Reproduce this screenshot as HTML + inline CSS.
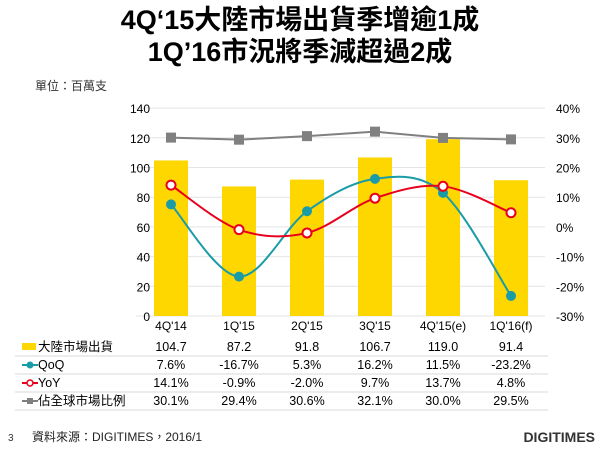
<!DOCTYPE html>
<html><head><meta charset="utf-8"><style>
body{margin:0;width:600px;height:450px;background:#fff;font-family:"Liberation Sans","Noto Sans CJK TC",sans-serif;overflow:hidden}
</style></head><body>
<svg id="s" width="600" height="450" xmlns="http://www.w3.org/2000/svg" font-family="Liberation Sans, Noto Sans CJK TC, sans-serif">
<text x="300" y="29" text-anchor="middle" font-size="27" font-weight="bold">4Q‘15大陸市場出貨季增逾1成</text>
<text x="300" y="61" text-anchor="middle" font-size="27" font-weight="bold">1Q’16市況將季減超過2成</text>
<text x="35" y="90" font-size="12" fill="#333">單位：百萬支</text>
<g id="g"></g>
<text x="8" y="441" font-size="10" fill="#333">3</text>
<text x="32" y="441" font-size="12" fill="#222">資料來源：DIGITIMES，2016/1</text>
<text x="595" y="442" text-anchor="end" font-size="14" font-weight="bold" fill="#333">DIGITIMES</text>
</svg>
<script>
var g=document.getElementById('g'),h='';
var xs=[171,239,307,375,443,511],cats=["4Q'14","1Q'15","2Q'15","3Q'15","4Q'15(e)","1Q'16(f)"];
var bar=[104.7,87.2,91.8,106.7,119.0,91.4],qoq=[7.6,-16.7,5.3,16.2,11.5,-23.2],yoy=[14.1,-0.9,-2.0,9.7,13.7,4.8],sh=[30.1,29.4,30.6,32.1,30.0,29.5];
function yl(v){return 316-v*208/140}function yr(v){return 227-v*2.97}
for(var i=0;i<=7;i++){var y=316-i*29.7;h+='<line x1="136" x2="545" y1="'+y+'" y2="'+y+'" stroke="#e4e4e4"/>';
h+='<text x="150" y="'+(y+5)+'" text-anchor="end" font-size="12">'+(i*20)+'</text>';
h+='<text x="556" y="'+(y+5)+'" font-size="12">'+(40-(7-i)*10)+'%</text>';}
xs.forEach(function(x,i){var t=yl(bar[i]);h+='<rect x="'+(x-17)+'" y="'+t+'" width="34" height="'+(316-t)+'" fill="#FFD700"/>';});
function smooth(p){var d='M'+p[0][0]+','+p[0][1];for(var i=0;i<p.length-1;i++){var a=p[i-1]||p[i],b=p[i],c=p[i+1],e=p[i+2]||c;
d+=' C'+(b[0]+(c[0]-a[0])/6)+','+(b[1]+(c[1]-a[1])/6)+' '+(c[0]-(e[0]-b[0])/6)+','+(c[1]-(e[1]-b[1])/6)+' '+c[0]+','+c[1];}return d;}
var ps=xs.map(function(x,i){return[x,yr(sh[i])]});
h+='<polyline points="'+ps.join(' ')+'" fill="none" stroke="#808080" stroke-width="2"/>';
ps.forEach(function(p){h+='<rect x="'+(p[0]-5)+'" y="'+(p[1]-5)+'" width="10" height="10" fill="#808080"/>'});
var pq=xs.map(function(x,i){return[x,yr(qoq[i])]});
h+='<path d="'+smooth(pq)+'" fill="none" stroke="#1a9ba8" stroke-width="2"/>';
pq.forEach(function(p){h+='<circle cx="'+p[0]+'" cy="'+p[1]+'" r="5" fill="#1a9ba8"/>'});
var py=xs.map(function(x,i){return[x,yr(yoy[i])]});
h+='<path d="'+smooth(py)+'" fill="none" stroke="#e8001c" stroke-width="2"/>';
py.forEach(function(p){h+='<circle cx="'+p[0]+'" cy="'+p[1]+'" r="4.5" fill="#fff" stroke="#e8001c" stroke-width="2"/>'});
xs.forEach(function(x,i){h+='<text x="'+x+'" y="330" text-anchor="middle" font-size="12">'+cats[i]+'</text>'});
var rows=[bar.map(function(v){return v.toFixed(1)}),qoq,yoy,sh],names=['大陸市場出貨','QoQ','YoY','佔全球市場比例'];
for(var r=0;r<4;r++){var y=351+r*18;
 h+='<line x1="15" x2="548" y1="'+(y+5)+'" y2="'+(y+5)+'" stroke="#d8d8d8"/>';
 if(r==0)h+='<rect x="22" y="'+(y-8)+'" width="14" height="7" fill="#FFD700"/>';
 if(r==1)h+='<line x1="22" x2="38" y1="'+(y-4)+'" y2="'+(y-4)+'" stroke="#1a9ba8" stroke-width="2"/><circle cx="30" cy="'+(y-4)+'" r="3.5" fill="#1a9ba8"/>';
 if(r==2)h+='<line x1="22" x2="38" y1="'+(y-4)+'" y2="'+(y-4)+'" stroke="#e8001c" stroke-width="2"/><circle cx="30" cy="'+(y-4)+'" r="3" fill="#fff" stroke="#e8001c" stroke-width="1.5"/>';
 if(r==3)h+='<line x1="22" x2="38" y1="'+(y-4)+'" y2="'+(y-4)+'" stroke="#808080" stroke-width="2"/><rect x="27" y="'+(y-7)+'" width="6" height="6" fill="#808080"/>';
 h+='<text x="38" y="'+y+'" font-size="12.5">'+names[r]+'</text>';
 xs.forEach(function(x,i){var v=rows[r][i];h+='<text x="'+x+'" y="'+y+'" text-anchor="middle" font-size="12.5">'+(r==0?v:v.toFixed(1)+'%')+'</text>'});}
g.innerHTML=h;
</script>
</body></html>
